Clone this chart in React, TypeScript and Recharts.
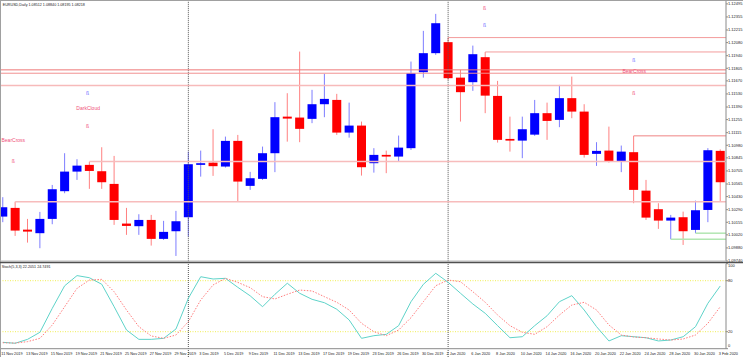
import React from 'react';
import { ComposedChart, Bar, Line, XAxis, YAxis, ReferenceLine, Scatter } from 'recharts';

const dates = [
  '11 Nov 2019', '12 Nov 2019', '13 Nov 2019', '14 Nov 2019', '15 Nov 2019',
  '18 Nov 2019', '19 Nov 2019', '20 Nov 2019', '21 Nov 2019', '22 Nov 2019',
  '25 Nov 2019', '26 Nov 2019', '27 Nov 2019', '28 Nov 2019', '29 Nov 2019',
  '2 Dec 2019', '3 Dec 2019', '4 Dec 2019', '5 Dec 2019', '6 Dec 2019',
  '9 Dec 2019', '10 Dec 2019', '11 Dec 2019', '12 Dec 2019', '13 Dec 2019',
  '16 Dec 2019', '17 Dec 2019', '18 Dec 2019', '19 Dec 2019', '20 Dec 2019',
  '23 Dec 2019', '24 Dec 2019', '26 Dec 2019', '27 Dec 2019', '30 Dec 2019',
  '31 Dec 2019', '2 Jan 2020', '3 Jan 2020', '6 Jan 2020', '7 Jan 2020',
  '8 Jan 2020', '9 Jan 2020', '10 Jan 2020', '13 Jan 2020', '14 Jan 2020',
  '15 Jan 2020', '16 Jan 2020', '17 Jan 2020', '20 Jan 2020', '21 Jan 2020',
  '22 Jan 2020', '23 Jan 2020', '24 Jan 2020', '27 Jan 2020', '28 Jan 2020',
  '29 Jan 2020', '30 Jan 2020', '31 Jan 2020', '3 Feb 2020',
];

const open = [
  1.10216, 1.10309, 1.10076, 1.10038, 1.10191, 1.10488, 1.10698, 1.1077, 1.10702, 1.10566,
  1.10141, 1.10113, 1.1018, 1.09977, 1.10059, 1.10209, 1.1077, 1.10794, 1.10752, 1.11027,
  1.10545, 1.1062, 1.10895, 1.11287, 1.11277, 1.11263, 1.1142, 1.11466, 1.11116, 1.11191,
  1.10788, 1.10877, 1.10859, 1.10949, 1.11763, 1.11967, 1.12085, 1.11705, 1.11656, 1.11924,
  1.11509, 1.11048, 1.1103, 1.11094, 1.11324, 1.11252, 1.11485, 1.11341, 1.10888, 1.10923,
  1.10805, 1.10906, 1.10494, 1.10295, 1.10173, 1.10209, 1.10073, 1.10287, 1.1092,
];
const high = [
  1.10424, 1.10376, 1.10191, 1.10266, 1.10555, 1.10895, 1.10831, 1.10805, 1.10959, 1.10866,
  1.10309, 1.10241, 1.10234, 1.1017, 1.10277, 1.10912, 1.10923, 1.11152, 1.11073, 1.11091,
  1.10695, 1.10966, 1.11442, 1.11538, 1.11984, 1.11574, 1.11745, 1.11531, 1.11437, 1.11234,
  1.10949, 1.10923, 1.11084, 1.11877, 1.12206, 1.12388, 1.12134, 1.11788, 1.12048, 1.1198,
  1.1167, 1.11287, 1.11287, 1.11466, 1.11437, 1.11627, 1.11716, 1.1142, 1.11013, 1.1118,
  1.10977, 1.11081, 1.10609, 1.10359, 1.10234, 1.10269, 1.10387, 1.10949, 1.10936,
];
const low = [
  1.10156, 1.10009, 1.09937, 1.09877, 1.10134, 1.10466, 1.10609, 1.10513, 1.10513, 1.10127,
  1.1002, 1.1002, 1.09905, 1.09966, 1.09794, 1.10001, 1.10644, 1.10652, 1.10741, 1.10376,
  1.10502, 1.10609, 1.10692, 1.11019, 1.11013, 1.11217, 1.11281, 1.11091, 1.11062, 1.10655,
  1.10687, 1.10681, 1.10805, 1.1093, 1.11705, 1.11949, 1.11681, 1.11234, 1.11563, 1.11324,
  1.11009, 1.10912, 1.10842, 1.11081, 1.11038, 1.11174, 1.1127, 1.10848, 1.10759, 1.10794,
  1.10692, 1.10359, 1.1018, 1.10084, 1.09973, 1.09912, 1.10038, 1.10156, 1.10373,
];
const close = [
  1.10316, 1.10066, 1.10055, 1.10191, 1.10509, 1.10698, 1.10762, 1.10705, 1.10584, 1.1018,
  1.10116, 1.1018, 1.09977, 1.10052, 1.10166, 1.10777, 1.10788, 1.10756, 1.11027, 1.10591,
  1.10627, 1.10895, 1.11281, 1.11266, 1.11156, 1.1142, 1.11477, 1.11116, 1.11191, 1.10745,
  1.10877, 1.10859, 1.10955, 1.11752, 1.11967, 1.12288, 1.11699, 1.11549, 1.11956, 1.11512,
  1.11038, 1.1103, 1.11152, 1.11324, 1.11241, 1.11485, 1.11341, 1.10877, 1.1092, 1.10805,
  1.10912, 1.10502, 1.10205, 1.10173, 1.10205, 1.10059, 1.10284, 1.10927, 1.10584,
];

const stochMain = [
  7.5, 6.4, 11, 19.3, 47.5, 74, 86, 83.5, 75.8, 49.4,
  22, 11, 11, 12.2, 23.2, 59.3, 84.7, 82, 82.8, 72.2,
  62.2, 49.4, 64, 77, 65.2, 58.1, 54.1, 46.4, 33.8, 12.2,
  15.3, 16.9, 27.1, 55.3, 75.8, 88.7, 78.1, 65.2, 52.6, 41.6,
  27.1, 12.9, 14.1, 27.1, 38.8, 55.3, 62.4, 45.5, 25.9, 9.1,
  15.3, 14.1, 12.9, 9.1, 10.2, 14.1, 25.9, 53.4, 73.8,
];
const stochSignal = [
  7, 6.6, 8.3, 12.2, 27.9, 49.4, 71, 80.8, 81.6, 67,
  45.5, 25.9, 15, 12.2, 16.1, 31.8, 57.3, 75, 82.8, 78,
  71.8, 61.2, 58.5, 64, 69, 67.9, 61.2, 54.6, 45.5, 29.9,
  20, 15.3, 22, 36.5, 55.3, 74.1, 80.8, 78.8, 67, 54.6,
  39.6, 27.1, 19.3, 16.9, 25.9, 39.6, 51.4, 54.6, 45.5, 27.9,
  16.1, 13.8, 12.9, 11.4, 10.2, 11.4, 16.1, 29.9, 49.4,
];

const priceTicks = [
  1.12495, 1.12355, 1.12215, 1.1208, 1.1194, 1.11805, 1.1167, 1.1153, 1.1139, 1.11255,
  1.11115, 1.1098, 1.10845, 1.10705, 1.10565, 1.1043, 1.1029, 1.10155, 1.1002, 1.0988, 1.0974,
];
const stochTicks = [0, 20, 80, 100];
const stochLevels = [20, 80];
const dateTickIdx = [
  0, 2, 4, 6, 8, 10, 12, 14, 16, 18, 20, 22, 24, 26, 28,
  30, 32, 34, 36, 38, 40, 42, 44, 46, 48, 50, 52, 54, 56, 58,
];
const separatorIdx = [15, 36];

// resistance / signal levels: price and the bar index where they start (null = from off-screen)
const levelPrices = [1.12134, 1.1198, 1.11788, 1.11752, 1.1162, 1.11081, 1.10805, 1.10376];
const levelStart: (number | null)[] = [36, 39, null, null, null, 51, 7, 1];
const supportPrices = [1.10038, 1.09973];
const supportStart = [56, 54];

// text objects: bar position, price, text, kind
const annoIdx = [6.85, 6.9, 6.85, 0.85, 0.85, 38.95, 38.95, 51, 51.05, 51];
const annoPrice = [1.11538, 1.11377, 1.1118, 1.1103, 1.10805, 1.12449, 1.1227, 1.11888, 1.11774, 1.11538];
const annoText = ['ß', 'DarkCloud', 'ß', 'BearCross', 'ß', 'ß', 'ß', 'ß', 'BearCross', 'ß'];
const annoKind = ['blue', 'pink', 'pink', 'pink', 'pink', 'pink', 'blue', 'blue', 'pink', 'pink'];

const headerText = 'EURUSD,Daily  1.08512 1.08840 1.08195 1.08218';
const stochLabel = 'Stoch(5,3,3) 22.2051 24.7491';

// ---- layout / style ----
const X_MIN = -0.2264;
const X_MAX = 58.464;
const P_MIN = 1.0974;
const P_MAX = 1.12526;
const FONT = 'Liberation Sans, Arial, sans-serif';
const levelColor = ['#f39c9c', '#f39c9c', '#ee7676', '#f19090', '#f7baba', '#ef8484', '#f7bcbc', '#f7bcbc'];
const levelWidth = [1, 1, 1, 1, 1.5, 1, 1.5, 1.5];

const candles = dates.map((d, i) => ({ i, d, o: open[i], h: high[i], l: low[i], c: close[i] }));
const stoch = dates.map((d, i) => ({ i, d, m: stochMain[i], s: stochSignal[i] }));
const annos = annoIdx.map((i, k) => ({ i, p: annoPrice[k], t: annoText[k], kind: annoKind[k] }));

const Candle = (props: any) => {
  const { x, y, width, height, payload } = props;
  if (x == null || y == null || height == null) return null;
  const { o, h, l, c } = payload;
  const cx = x + width / 2;
  const range = h - l;
  const py = (p: number) => (range === 0 ? y : y + ((h - p) / range) * height);
  const up = c >= o;
  const top = py(Math.max(o, c));
  const bot = py(Math.min(o, c));
  const bw = 9;
  return (
    <g>
      <line x1={cx} x2={cx} y1={y} y2={y + height} stroke={up ? '#7d7dff' : '#ff8080'} strokeWidth={1} />
      <rect x={cx - bw / 2} y={top} width={bw} height={Math.max(bot - top, 1.2)} fill={up ? '#0000ff' : '#ff0000'} />
    </g>
  );
};

const AnnoText = (props: any) => {
  const { cx, cy, payload } = props;
  if (cx == null || cy == null) return null;
  const word = payload.t.length > 1;
  return (
    <text x={cx} y={cy} dy={word ? 1.8 : 1.7} textAnchor="middle" fontSize={word ? 5 : 5}
      fill={payload.kind === 'blue' ? '#6f6fff' : '#f0507a'} fontFamily={FONT}>
      {payload.t}
    </text>
  );
};

const PriceTick = (props: any) => {
  const { x, y, payload } = props;
  return (
    <text x={x} y={y} dy={1.4} fontSize={4} fill="#222" fontFamily={FONT}>
      {Number(payload.value).toFixed(5)}
    </text>
  );
};

const StochTick = (props: any) => {
  const { x, y, payload } = props;
  const v = payload.value;
  const shift = v === 100 ? 2.3 : v === 0 ? -3 : 0;
  return (
    <text x={x} y={y + shift} dy={1.4} fontSize={4} fill="#222" fontFamily={FONT}>
      {v}
    </text>
  );
};

const DateTick = (props: any) => {
  const { x, y, payload } = props;
  return (
    <text x={x - 1.5} y={y} dy={4.4} fontSize={3.8} fill="#222" fontFamily={FONT} textAnchor="start">
      {dates[payload.value]}
    </text>
  );
};

export default function App() {
  return (
    <div style={{ position: 'absolute', left: 0, top: 0, width: 743, height: 357, background: '#fff', overflow: 'hidden' }}>
      <div style={{ position: 'absolute', left: 0, top: 0 }}>
        <ComposedChart width={743} height={262} data={candles} margin={{ top: 1, right: 0, bottom: 1, left: 0 }}>
          <XAxis dataKey="i" type="number" domain={[X_MIN, X_MAX]} allowDataOverflow hide />
          <YAxis orientation="right" type="number" domain={[P_MIN, P_MAX]} allowDataOverflow ticks={priceTicks}
            interval={0} width={17} tick={<PriceTick />} tickSize={2} tickMargin={0}
            axisLine={{ stroke: '#8a8a8a' }} tickLine={{ stroke: '#8a8a8a' }} />
          {separatorIdx.map((s) => (
            <ReferenceLine key={'sep' + s} segment={[{ x: s, y: P_MAX + 0.0003 }, { x: s, y: P_MIN - 0.0003 }]}
              ifOverflow="visible" stroke="#555" strokeDasharray="1 1" strokeWidth={1} />
          ))}
          {levelPrices.map((p, k) =>
            levelStart[k] == null ? (
              <ReferenceLine key={'lv' + k} y={p} stroke={levelColor[k]} strokeWidth={levelWidth[k]} ifOverflow="visible" />
            ) : (
              <ReferenceLine key={'lv' + k} segment={[{ x: levelStart[k] as number, y: p }, { x: X_MAX, y: p }]}
                stroke={levelColor[k]} strokeWidth={levelWidth[k]} ifOverflow="visible" />
            )
          )}
          {supportPrices.map((p, k) => (
            <ReferenceLine key={'sp' + k} segment={[{ x: supportStart[k], y: p }, { x: X_MAX, y: p }]}
              stroke="#b2e6b2" strokeWidth={1.5} ifOverflow="visible" />
          ))}
          <Bar dataKey={(d: any) => [d.l, d.h]} barSize={9} shape={<Candle />} isAnimationActive={false} />
          <Scatter data={annos} dataKey="p" shape={<AnnoText />} isAnimationActive={false} />
        </ComposedChart>
      </div>
      <div style={{ position: 'absolute', left: 0, top: 262 }}>
        <ComposedChart width={743} height={95} data={stoch} margin={{ top: 1.7, right: 0, bottom: 0, left: 0 }}>
          <XAxis dataKey="i" type="number" domain={[X_MIN, X_MAX]} allowDataOverflow ticks={dateTickIdx} interval={0}
            height={8.3} tick={<DateTick />} tickSize={0} axisLine={{ stroke: '#8a8a8a' }} />
          <YAxis orientation="right" type="number" domain={[0, 100]} allowDataOverflow ticks={stochTicks} interval={0}
            width={17} tick={<StochTick />} tickSize={2} tickMargin={0}
            axisLine={{ stroke: '#8a8a8a' }} tickLine={{ stroke: '#8a8a8a' }} />
          {stochLevels.map((v) => (
            <ReferenceLine key={'sl' + v} y={v} stroke="#f0ee55" strokeDasharray="1 1.5" strokeWidth={1} />
          ))}
          {separatorIdx.map((s) => (
            <ReferenceLine key={'sep2' + s} segment={[{ x: s, y: 102 }, { x: s, y: -11 }]}
              ifOverflow="visible" stroke="#555" strokeDasharray="1 1" strokeWidth={1} />
          ))}
          <Line dataKey="m" type="linear" stroke="#5fd3c9" strokeWidth={1} dot={false} isAnimationActive={false} />
          <Line dataKey="s" type="linear" stroke="#ff7c7c" strokeWidth={1} strokeDasharray="1.5 1.5" dot={false} isAnimationActive={false} />
        </ComposedChart>
      </div>
      <svg width={743} height={357} style={{ position: 'absolute', left: 0, top: 0, pointerEvents: 'none' }}>
        <line x1={0} x2={743} y1={0.5} y2={0.5} stroke="#a0a0a0" strokeWidth={1} />
        <line x1={0.5} x2={0.5} y1={0} y2={357} stroke="#a0a0a0" strokeWidth={1} />
        <line x1={0} x2={726} y1={261} y2={261} stroke="#b8b8b8" strokeWidth={1} />
        <line x1={0} x2={743} y1={262.5} y2={262.5} stroke="#505050" strokeWidth={1.5} />
        <text x={2.7} y={5.6} fontSize={3.7} fill="#222" fontFamily={FONT}>{headerText}</text>
        <text x={1.7} y={268.3} fontSize={3.7} fill="#222" fontFamily={FONT}>{stochLabel}</text>
      </svg>
    </div>
  );
}
